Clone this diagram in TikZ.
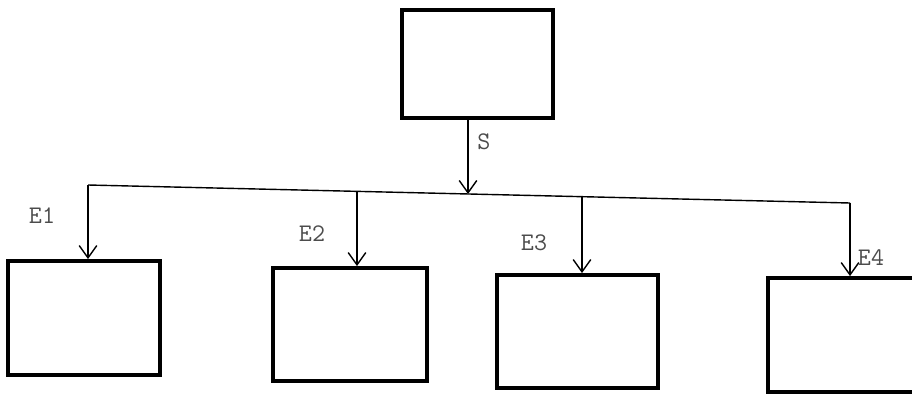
\documentclass[tikz,border=0pt]{standalone}
\usepackage{tikz}
\usetikzlibrary{arrows.meta, positioning, calc}

\begin{document}
\begin{tikzpicture}[x=0.02cm, y=-0.02cm,
  box/.style={rectangle, draw, line width=2.2pt, inner sep=0pt},
  arr/.style={-{Straight Barb[length=7pt, width=10pt, line width=0.8pt]}, line width=0.8pt},
  lbl/.style={font=\Large\ttfamily, text=black!70}
]
  \useasboundingbox (0,0) rectangle (912,396);
  % boxes
  \node[box, minimum width=3.02cm, minimum height=2.16cm] (top) at (477.5,64) {};
  \node[box, minimum width=3.04cm, minimum height=2.28cm] (e1) at (84,318) {};
  \node[box, minimum width=3.08cm, minimum height=2.26cm] (e2) at (350,324.5) {};
  \node[box, minimum width=3.22cm, minimum height=2.26cm] (e3) at (577.5,331.5) {};
  \node[box, minimum width=2.92cm, minimum height=2.28cm] (e4) at (841,335) {};
  % bus
  \coordinate (t1) at (88,185);
  \coordinate (t2) at (357,191.4);
  \coordinate (ts) at (468,194);
  \coordinate (t3) at (582,196.7);
  \coordinate (t4) at (850,203);
  \draw[line width=0.8pt] (t1) -- (t4);
  \draw[arr] (top.south -| ts) -- (ts);
  \draw[arr] (t1) -- (t1 |- e1.north);
  \draw[arr] (t2) -- (t2 |- e2.north);
  \draw[arr] (t3) -- (t3 |- e3.north);
  \draw[arr] (t4) -- (t4 |- e4.north);
  % labels
  \node[lbl] (s) at (484,142) {S};
  \node[lbl] (l1) at (42,216) {E1};
  \node[lbl] (l2) at (312,234) {E2};
  \node[lbl] (l3) at (534,243) {E3};
  \node[lbl] (l4) at (871,258) {E4};
\end{tikzpicture}
\end{document}
